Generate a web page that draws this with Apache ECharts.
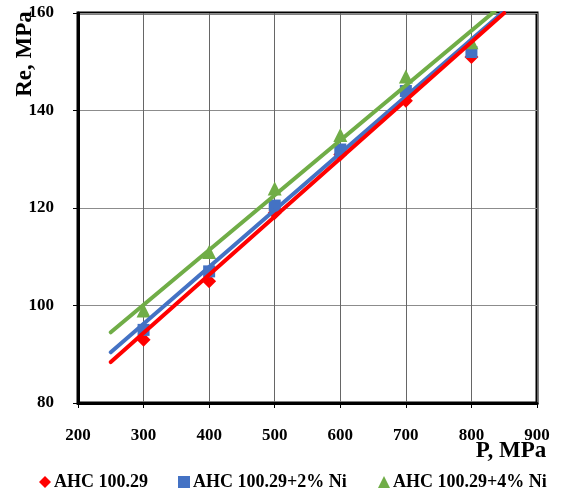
<!DOCTYPE html>
<html>
<head>
<meta charset="utf-8">
<script src="https://cdn.jsdelivr.net/npm/echarts@6/dist/echarts.min.js"></script>
<style>
  html, body { margin: 0; padding: 0; background: #fff; }
  #chart { width: 562px; height: 492px; }
</style>
</head>
<body>
<div id="chart"></div>
<script>
// Pressure levels, MPa
const pressure = [300, 400, 500, 600, 700, 800];

// Re, MPa for each alloy
const reBase = [93, 105, 119, 131, 142, 151];
const reNi2 = [95, 107, 120.5, 132, 144, 152];
const reNi4 = [99, 111, 124, 135, 147, 154];

// Linear trend lines: values at the two ends of the forecast range
const trendP = [250, 850];
const trendBase = [88.4, 160.0];
const trendNi2 = [90.4, 160.4];
const trendNi4 = [94.5, 162.0];

const names = ['AHC 100.29', 'AHC 100.29+2% Ni', 'AHC 100.29+4% Ni'];
const colors = ['#FF0000', '#4472C4', '#70AD47'];
const symbols = ['diamond', 'rect', 'triangle'];
const symbolSizes = [14, 12, 14];

const FONT = '"Liberation Serif", "Times New Roman", serif';

const pairs = (xs, ys) => xs.map((x, i) => [x, ys[i]]);

const pointSets = [reBase, reNi2, reNi4];
const trendSets = [trendBase, trendNi2, trendNi4];

const scatterSeries = pointSets.map((vals, i) => ({
  name: names[i],
  type: 'scatter',
  data: pairs(pressure, vals),
  symbol: symbols[i],
  symbolSize: symbolSizes[i],
  itemStyle: { color: colors[i], opacity: 1 },
  z: 3 + i
}));

// draw green first, red last so red sits on top
const trendSeries = [2, 1, 0].map((i, k) => ({
  type: 'line',
  data: pairs(trendP, trendSets[i]),
  showSymbol: false,
  symbol: 'none',
  silent: true,
  lineStyle: { color: colors[i], width: 4, cap: 'round' },
  z: 10 + k
}));

const legendLefts = [34, 173, 373];
const legends = names.map((n, i) => ({
  data: [{ name: n, icon: symbols[i], itemStyle: { color: colors[i], opacity: 1 } }],
  left: legendLefts[i],
  top: 468,
  itemWidth: 12,
  itemHeight: 12,
  itemGap: 0,
  textStyle: { fontFamily: FONT, fontWeight: 'bold', fontSize: 18, color: '#000', padding: [0, 0, 0, -2] }
}));

const chart = echarts.init(document.getElementById('chart'), null, { renderer: 'canvas' });
chart.setOption({
  animation: false,
  backgroundColor: '#fff',
  grid: {
    left: 78, top: 13, width: 459, height: 390,
    show: true, borderColor: '#000', borderWidth: 3, backgroundColor: 'transparent'
  },
  legend: legends,
  xAxis: {
    type: 'value', min: 200, max: 900, interval: 100,
    axisLine: { show: true, lineStyle: { color: '#000', width: 3 } },
    axisTick: { show: true, length: 5, lineStyle: { color: '#000', width: 1 } },
    axisLabel: { margin: 24, fontFamily: FONT, fontWeight: 'bold', fontSize: 17, color: '#000', showMinLabel: true, showMaxLabel: true },
    splitLine: { show: true, lineStyle: { color: '#666', width: 1 } }
  },
  yAxis: {
    type: 'value', min: 80, max: 160, interval: 20,
    axisLine: { show: true, lineStyle: { color: '#000', width: 3 } },
    axisTick: { show: true, length: 5, lineStyle: { color: '#000', width: 1 } },
    axisLabel: { margin: 24, fontFamily: FONT, fontWeight: 'bold', fontSize: 17, color: '#000', showMinLabel: true, showMaxLabel: true },
    splitLine: { show: true, lineStyle: { color: '#8c8c8c', width: 1 } }
  },
  graphic: [
    {
      type: 'text', x: 25, y: 54, rotation: Math.PI / 2,
      style: { text: 'Re, MPa', textAlign: 'center', textVerticalAlign: 'middle',
               font: 'bold 23px ' + FONT, fill: '#000' },
      z: 100
    },
    {
      type: 'text', x: 511, y: 451,
      style: { text: 'P, MPa', textAlign: 'center', textVerticalAlign: 'middle',
               font: 'bold 23px ' + FONT, fill: '#000' },
      z: 100
    }
  ],
  series: scatterSeries.concat(trendSeries)
});
</script>
</body>
</html>
